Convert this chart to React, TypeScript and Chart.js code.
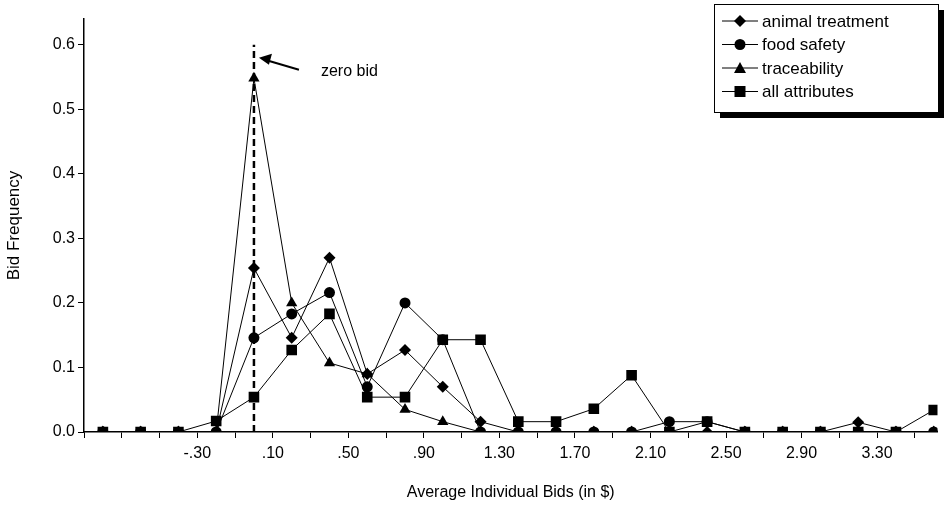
import React, { useEffect, useRef } from "react";
import { Chart, type ChartConfiguration, registerables } from "chart.js";

Chart.register(...registerables);

const bids = [-0.8, -0.6, -0.4, -0.2, 0, 0.2, 0.4, 0.6, 0.8, 1.0, 1.2, 1.4, 1.6, 1.8, 2.0, 2.2, 2.4, 2.6, 2.8, 3.0, 3.2, 3.4, 3.6];
const animalTreatment = [0, 0, 0, 0, 0.254, 0.146, 0.27, 0.09, 0.127, 0.07, 0.016, 0, 0, 0, 0, 0, 0, 0, 0, 0, 0.015, 0, 0];
const foodSafety = [0, 0, 0, 0, 0.146, 0.183, 0.216, 0.07, 0.2, 0.143, 0, 0, 0, 0, 0, 0.016, 0.016, 0, 0, 0, 0, 0, 0];
const traceability = [0, 0, 0, 0, 0.548, 0.2, 0.107, 0.09, 0.035, 0.016, 0, 0, 0, 0, 0, 0, 0, 0, 0, 0, 0, 0, 0];
const allAttributes = [0, 0, 0, 0.017, 0.054, 0.127, 0.183, 0.054, 0.054, 0.143, 0.143, 0.016, 0.016, 0.036, 0.088, 0, 0.016, 0, 0, 0, 0, 0, 0.034];
const tickLabels = ["-.30", ".10", ".50", ".90", "1.30", "1.70", "2.10", "2.50", "2.90", "3.30"];
const seriesNames = ["animal treatment", "food safety", "traceability", "all attributes"];
const pointStyles = ["rectRot", "circle", "triangle", "rect"] as const;
const pointRadii = [6, 5.5, 6.5, 7.5];

const FONT = "'Liberation Sans', Arial, sans-serif";

function fmtTick(v: number) {
  const s = Math.abs(v).toFixed(2);
  const t = s.startsWith("0") ? s.slice(1) : s;
  return v < 0 ? "-" + t : t;
}

const overlay = {
  id: "overlay",
  afterDraw(chart: Chart) {
    const ctx = chart.ctx;
    const x = chart.scales.x;
    const y = chart.scales.y;
    ctx.save();
    // zero bid dashed line
    ctx.strokeStyle = "#000";
    ctx.lineWidth = 2.5;
    ctx.setLineDash([7, 4]);
    ctx.beginPath();
    ctx.moveTo(x.getPixelForValue(0), y.getPixelForValue(0));
    ctx.lineTo(x.getPixelForValue(0), y.getPixelForValue(0.6));
    ctx.stroke();
    ctx.setLineDash([]);
    // arrow
    const ax = x.getPixelForValue(0) + 5, ay = y.getPixelForValue(0.58);
    const bx = ax + 40, by = ay + 12;
    ctx.lineWidth = 2;
    ctx.beginPath();
    ctx.moveTo(bx, by);
    ctx.lineTo(ax + 6, ay + 2);
    ctx.stroke();
    ctx.beginPath();
    ctx.moveTo(ax, ay);
    ctx.lineTo(ax + 13, ay - 4);
    ctx.lineTo(ax + 10, ay + 7);
    ctx.closePath();
    ctx.fill();
    ctx.font = `16px ${FONT}`;
    ctx.fillStyle = "#000";
    ctx.textBaseline = "middle";
    ctx.fillText("zero bid", bx + 22, by + 2);
    // legend
    const lx = 714, ly = 4, lw = 224, lh = 108;
    ctx.fillStyle = "#000";
    ctx.fillRect(lx + 6, ly + 6, lw, lh);
    ctx.fillStyle = "#fff";
    ctx.fillRect(lx, ly, lw, lh);
    ctx.strokeStyle = "#000";
    ctx.lineWidth = 1;
    ctx.strokeRect(lx + 0.5, ly + 0.5, lw, lh);
    seriesNames.forEach((name, i) => {
      const yy = ly + 17 + i * 23.5;
      ctx.beginPath();
      ctx.moveTo(lx + 8, yy);
      ctx.lineTo(lx + 44, yy);
      ctx.stroke();
      ctx.fillStyle = "#000";
      const s = pointStyles[i];
      const cx = lx + 26;
      ctx.beginPath();
      if (s === "rectRot") {
        ctx.moveTo(cx, yy - 6); ctx.lineTo(cx + 6, yy); ctx.lineTo(cx, yy + 6); ctx.lineTo(cx - 6, yy);
      } else if (s === "circle") {
        ctx.arc(cx, yy, 5.5, 0, Math.PI * 2);
      } else if (s === "triangle") {
        ctx.moveTo(cx, yy - 6); ctx.lineTo(cx + 6, yy + 5); ctx.lineTo(cx - 6, yy + 5);
      } else {
        ctx.rect(cx - 5.5, yy - 5.5, 11, 11);
      }
      ctx.closePath();
      ctx.fill();
      ctx.font = `17px ${FONT}`;
      ctx.fillText(name, lx + 48, yy + 1);
    });
    ctx.restore();
  },
};

export default function App() {
  const chartRef = useRef<HTMLCanvasElement | null>(null);
  const chartInstance = useRef<Chart | null>(null);

  useEffect(() => {
    if (!chartRef.current) return;
    if (chartInstance.current) chartInstance.current.destroy();

    const seriesData = [animalTreatment, foodSafety, traceability, allAttributes];
    const config: ChartConfiguration<"line"> = {
      type: "line",
      data: {
        datasets: seriesData.map((vals, i) => ({
          label: seriesNames[i],
          data: vals.map((v, k) => ({ x: bids[k], y: v })),
          borderColor: "#000",
          backgroundColor: "#000",
          borderWidth: 1,
          pointStyle: pointStyles[i],
          pointRadius: pointRadii[i],
          pointBorderWidth: 0,
          tension: 0,
        })),
      },
      options: {
        animation: false,
        responsive: false,
        layout: { padding: { top: 19, right: 0, left: 0, bottom: 0 } },
        plugins: { legend: { display: false }, tooltip: { enabled: false } },
        scales: {
          x: {
            type: "linear",
            min: -0.9,
            max: 3.62,
            afterBuildTicks: (s: any) => {
              const t = [];
              for (let k = 0; k <= 22; k++) t.push({ value: -0.9 + 0.2 * k });
              s.ticks = t;
            },
            afterFit: (s: any) => { s.height = 74; },
            border: { color: "#000", width: 1.5 },
            grid: { drawOnChartArea: false, tickLength: 6, color: "#000" },
            ticks: {
              color: "#000",
              maxRotation: 0,
              autoSkip: false,
              padding: 6,
              font: { family: FONT, size: 16 },
              callback: (v: any) => {
                const lbl = fmtTick(Number(v));
                return tickLabels.includes(lbl) ? lbl : "";
              },
            },
            title: { display: true, text: "Average Individual Bids (in $)", color: "#000", font: { family: FONT, size: 16 }, padding: { top: 14 } },
          },
          y: {
            min: 0,
            max: 0.64,
            afterBuildTicks: (s: any) => {
              s.ticks = [0, 0.1, 0.2, 0.3, 0.4, 0.5, 0.6].map((v) => ({ value: v }));
            },
            afterFit: (s: any) => { s.width = 84; },
            border: { color: "#000", width: 1.5 },
            grid: { drawOnChartArea: false, tickLength: 6, color: "#000" },
            ticks: { color: "#000", font: { family: FONT, size: 16 }, callback: (v: any) => Number(v).toFixed(1) },
            title: { display: true, text: "Bid Frequency", color: "#000", font: { family: FONT, size: 17 } },
          },
        },
      },
      plugins: [overlay],
    };

    chartInstance.current = new Chart(chartRef.current, config);
    return () => {
      if (chartInstance.current) chartInstance.current.destroy();
    };
  }, []);

  return (
    <div style={{ position: "absolute", left: 0, top: 0, width: 945, height: 506, background: "#fff" }}>
      <canvas ref={chartRef} width={945} height={506} />
    </div>
  );
}
